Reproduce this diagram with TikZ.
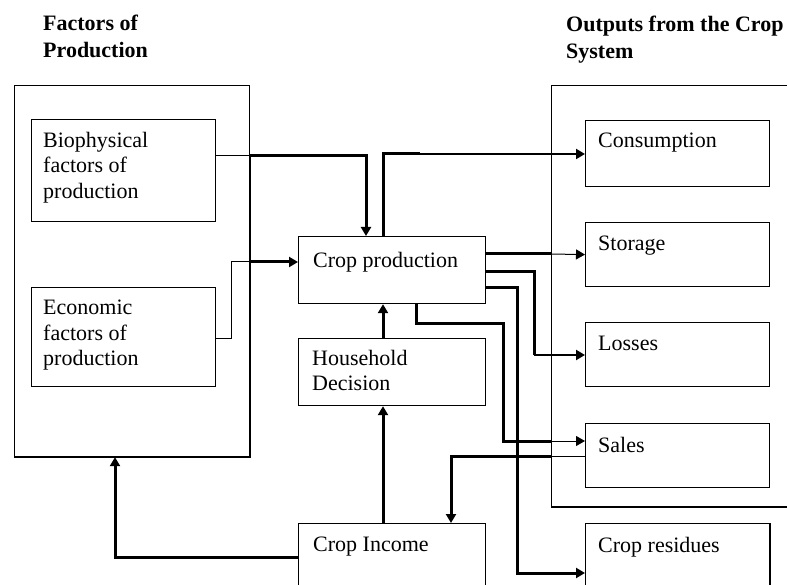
\documentclass[tikz,border=0pt]{standalone}
\usepackage{fontspec}
\setmainfont{Liberation Serif}
\usetikzlibrary{arrows.meta}
\begin{document}
\begin{tikzpicture}[x=1pt,y=-1pt,
  frame/.style={draw, line width=1.2pt, anchor=north west, inner sep=0pt},
  caption/.style={anchor=north west, inner sep=0pt, align=left,
    font=\fontsize{22}{25.5}\selectfont},
  heading/.style={anchor=north west, inner sep=0pt, align=left,
    font=\fontsize{22}{27}\selectfont\bfseries},
  tip/.style={-{Triangle[length=9pt,width=10pt]}},
  fine/.style={line width=1pt},
  medium/.style={line width=2pt},
  heavy/.style={line width=3pt},
]
\useasboundingbox (0,0) rectangle (787,585);
\clip (0,0) rectangle (787,585);

% column headings
\node[heading] (hin)  at (43,15) {Factors of\\Production};
\node[heading] (hout) at (566,16) {Outputs from the Crop\\System};

% enclosing groups
\node[frame, minimum width=235pt, minimum height=371pt] (factors) at (14,85) {};
\node[frame, minimum width=260pt, minimum height=421pt] (outputs) at (551,85) {};
\draw[line width=2.5pt] (factors.north east |- 0,155) -- (factors.south east) -- (factors.south west);
\draw[line width=2.5pt] (outputs.south west) -- (outputs.south east);

% inputs
\node[frame, minimum width=184pt, minimum height=102pt] (bio)  at (31,119) {};
\node[frame, minimum width=184pt, minimum height=99pt]  (econ) at (31,287) {};
\node[caption] (biot)  at (43,132) {Biophysical\\factors of\\production};
\node[caption] (econt) at (43,300) {Economic\\factors of\\production};

% central column
\node[frame, minimum width=187pt, minimum height=67pt]  (cp) at (298,236) {};
\node[frame, minimum width=187pt, minimum height=67pt]  (hh) at (298,338) {};
\node[frame, minimum width=187pt, minimum height=100pt] (ci) at (298,523) {};
\node[caption] (cpt) at (313,252) {Crop production};
\node[caption] (hht) at (312,350) {Household\\Decision};
\node[caption] (cit) at (313,537) {Crop Income};

% outputs
\node[frame, minimum width=184pt, minimum height=66pt]  (cons)  at (585,120) {};
\node[frame, minimum width=184pt, minimum height=64pt]  (stor)  at (585,222) {};
\node[frame, minimum width=184pt, minimum height=64pt]  (loss)  at (585,322) {};
\node[frame, minimum width=184pt, minimum height=64pt]  (sales) at (585,423) {};
\node[frame, minimum width=184pt, minimum height=100pt] (res)   at (585,523) {};
\draw[line width=2.5pt] (res.north east) -- (res.south east);
\node[caption] (const)  at (598,133) {Consumption};
\node[caption] (stort)  at (598,236) {Storage};
\node[caption] (losst)  at (598,336) {Losses};
\node[caption] (salest) at (598,437) {Sales};
\node[caption] (rest)   at (598,537) {Crop residues};

% factors into crop production
\draw[fine] (bio.east |- 0,156) -- (factors.east |- 0,156);
\draw[heavy, tip] (factors.east |- 0,156) -| (cp.north -| 366,0);
\draw[fine] (econ.east |- 0,338) -| (231,262) -- (factors.east |- 0,262);
\draw[heavy, tip] (factors.east |- 0,262) -- (cp.west |- 0,262);

% crop production to outputs
\draw[heavy] (cp.north -| 383,0) |- (420,154);
\draw[medium, tip] (383,154) -- (cons.west |- 0,154);
\draw[heavy] (cp.east |- 0,254) -- (outputs.west |- 0,254);
\draw[fine, tip] (outputs.west |- 0,254) -- (stor.west);
\draw[heavy] (cp.east |- 0,272) -| (534,355);
\draw[medium, tip] (534,355) -- (loss.west |- 0,355);
\draw[heavy] (cp.south -| 416,0) |- (503,323) |- (outputs.west |- 0,441);
\draw[fine, tip] (outputs.west |- 0,441) -- (sales.west |- 0,441);
\draw[heavy, tip] (cp.east |- 0,288) -| (517,573) -- (res.west |- 0,573);

% decision and income loop
\draw[heavy, tip] (hh.north -| 383,0) -- (cp.south -| 383,0);
\draw[heavy, tip] (ci.north -| 383,0) -- (hh.south -| 383,0);
\draw[heavy, tip] (ci.west |- 0,557) -| (factors.south -| 115,0);
\draw[fine] (sales.west |- 0,456) -- (outputs.west |- 0,456);
\draw[heavy, tip] (outputs.west |- 0,456) -| (ci.north -| 451,0);
\end{tikzpicture}
\end{document}
